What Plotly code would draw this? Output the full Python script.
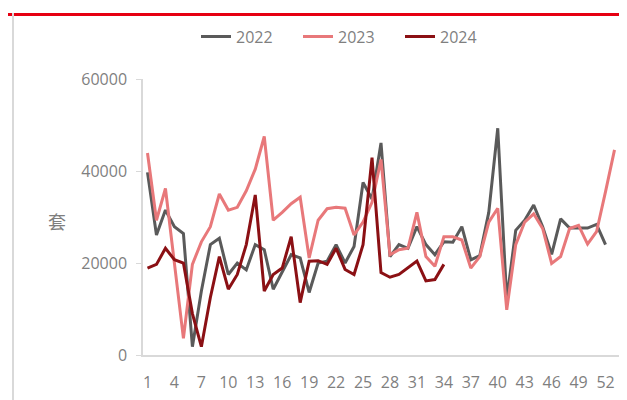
import plotly.graph_objects as go

weeks = list(range(1, 54))
tick_vals = [1, 4, 7, 10, 13, 16, 19, 22, 25, 28, 31, 34, 37, 40, 43, 46, 49, 52]
tick_text = [str(v) for v in tick_vals]

y2022 = [39700, 26100, 31500, 27900, 26400, 1800, 13900, 24000, 25400, 17500,
         20000, 18500, 24000, 22900, 14300, 17900, 21800, 21100, 13600, 20000,
         20400, 24000, 20000, 23600, 37500, 33900, 46100, 21400, 24000, 23200,
         27900, 24000, 21800, 24600, 24500, 27900, 20700, 21600, 31000, 49300,
         12000, 27100, 29300, 32600, 27900, 21900, 29600, 27600, 27600, 27600,
         28400, 24000]
y2023 = [43900, 29300, 36200, 19700, 3600, 19700, 24600, 27900, 35000, 31500,
         32100, 35700, 40400, 47500, 29300, 31000, 32900, 34300, 21100, 29300,
         31800, 32100, 31900, 26100, 28900, 33200, 42500, 21800, 22900, 23200,
         31000, 21400, 19300, 25700, 25700, 25000, 18900, 21400, 28900, 31900,
         9800, 24000, 28900, 30700, 27500, 19900, 21400, 27500, 28200, 24100,
         26800, 35500, 44600]
y2024 = [18900, 19700, 23200, 20700, 20000, 9000, 1800, 12500, 21400, 14300,
         17500, 24000, 34800, 13900, 17500, 18900, 25700, 11400, 20400, 20500,
         19700, 23200, 18600, 17500, 24000, 42900, 17900, 16900, 17500, 18900,
         20400, 16100, 16400, 19700]

series = [("2022", y2022, "#5a5a5a"), ("2023", y2023, "#e8787a"), ("2024", y2024, "#8b1014")]

fig = go.Figure()
for name, ys, col in series:
    fig.add_trace(go.Scatter(x=weeks[:len(ys)], y=ys, name=name, mode="lines",
                             line=dict(color=col, width=3)))

# page is offset by 8px body margin; plot area targets page x 143-619, y 75-355
L, R, T, B = 135, 16, 67, 53
PW = 627 - L - R
PH = 400 - T - B

font_col = "#7f7f7f"
fig.update_layout(
    width=627, height=400,
    margin=dict(l=L, r=R, t=T, b=B),
    paper_bgcolor="white", plot_bgcolor="white",
    font=dict(family="Open Sans", size=16, color=font_col),
    showlegend=True,
    legend=dict(orientation="h", x=(188 - L) / PW, xanchor="left",
                y=1 + (T - 24) / PH, yanchor="middle",
                entrywidth=57, entrywidthmode="pixels",
                font=dict(size=16, color=font_col), bgcolor="rgba(0,0,0,0)"),
    xaxis=dict(range=[0.5, 53.5], tickmode="array", tickvals=tick_vals, ticktext=tick_text,
               showgrid=False, zeroline=False, showline=True, linecolor="#d9d9d9",
               linewidth=1.5, ticks="", ticklabelstandoff=12),
    yaxis=dict(range=[0, 60000], tickvals=[0, 20000, 40000, 60000],
               ticktext=["0", "20000", "40000", "60000"],
               showgrid=False, zeroline=False, showline=True, linecolor="#d9d9d9",
               linewidth=1.5, ticks="outside", ticklen=5, tickcolor="#d9d9d9",
               ticklabelstandoff=6),
    annotations=[dict(text="套", xref="paper", yref="paper", x=(49 - L) / PW,
                      y=(347 - 211) / PH, showarrow=False, xanchor="center",
                      yanchor="middle", font=dict(size=18, color=font_col,
                                                  family="Noto Sans CJK SC"))],
    shapes=[
        dict(type="line", xref="paper", yref="paper", x0=-L / PW, x1=(627 - L) / PW,
             y0=1 + (T - 1.5) / PH, y1=1 + (T - 1.5) / PH, line=dict(color="#e60012", width=3)),
        dict(type="line", xref="paper", yref="paper", x0=(5 - L) / PW, x1=(5 - L) / PW,
             y0=1 + T / PH, y1=-B / PH, line=dict(color="#d9d9d9", width=2)),
    ],
)

fig.write_html("out.html")
